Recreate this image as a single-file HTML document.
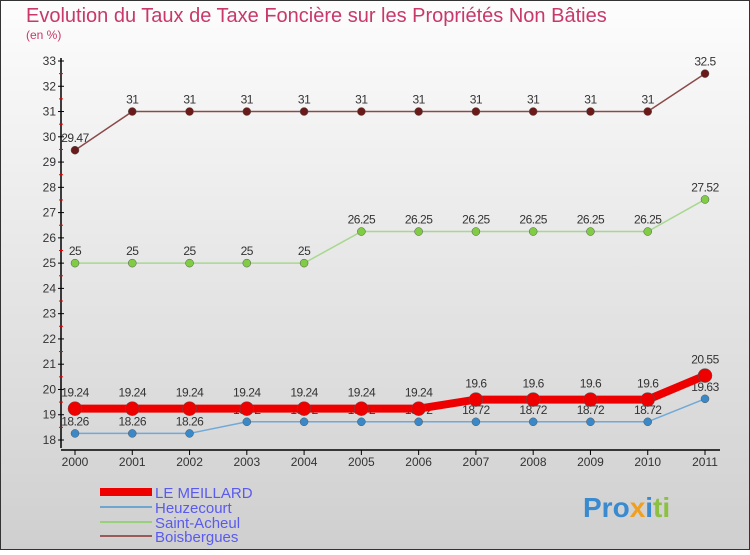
<!DOCTYPE html>
<html><head><meta charset="utf-8"><style>
body{margin:0;width:750px;height:550px;overflow:hidden;font-family:"Liberation Sans",sans-serif}
</style></head><body>
<svg width="750" height="550" xmlns="http://www.w3.org/2000/svg">
<defs><linearGradient id="bg" x1="0" y1="0" x2="0" y2="1"><stop offset="0" stop-color="#fdfdfd"/><stop offset="1" stop-color="#cfcfcf"/></linearGradient></defs>
<rect x="0.5" y="0.5" width="749" height="549" fill="url(#bg)" stroke="#333"/>
<text x="26" y="22" font-size="20" fill="#c8386a">Evolution du Taux de Taxe Foncière sur les Propriétés Non Bâties</text>
<text x="26" y="39" font-size="12" fill="#c8386a">(en %)</text>
<g id="axes"></g>
<g id="series"></g>
<g>
<rect x="100" y="488" width="52" height="8" fill="#e00"/>
<text x="155" y="498" font-size="15" fill="#5a5af0">LE MEILLARD</text>
<line x1="100" y1="507" x2="152" y2="507" stroke="#6ea6d0" stroke-width="2"/>
<text x="155" y="513" font-size="15" fill="#5a5af0">Heuzecourt</text>
<line x1="100" y1="522" x2="152" y2="522" stroke="#99d07a" stroke-width="2"/>
<text x="155" y="528" font-size="15" fill="#5a5af0">Saint-Acheul</text>
<line x1="100" y1="536" x2="152" y2="536" stroke="#9a5a5a" stroke-width="2"/>
<text x="155" y="542" font-size="15" fill="#5a5af0">Boisbergues</text>
</g>
<text x="583" y="517" font-size="28" font-weight="bold" fill="#3a8ad0">Pro<tspan fill="#f0a020">x</tspan><tspan fill="#3a8ad0">i</tspan><tspan fill="#8cc040">ti</tspan></text>
</svg>
<script>
const years=[2000,2001,2002,2003,2004,2005,2006,2007,2008,2009,2010,2011];
const yTicks=[18,19,20,21,22,23,24,25,26,27,28,29,30,31,32,33];
const meillard=[19.24,19.24,19.24,19.24,19.24,19.24,19.24,19.6,19.6,19.6,19.6,20.55];
const heuzecourt=[18.26,18.26,18.26,18.72,18.72,18.72,18.72,18.72,18.72,18.72,18.72,19.63];
const saintAcheul=[25,25,25,25,25,26.25,26.25,26.25,26.25,26.25,26.25,27.52];
const boisbergues=[29.47,31,31,31,31,31,31,31,31,31,31,32.5];
const NS="http://www.w3.org/2000/svg";
const xs=i=>75+i*(630/11);
const ys=v=>440-(v-18)*(379/15);
function mk(t,a,p){const e=document.createElementNS(NS,t);for(const k in a)e.setAttribute(k,a[k]);p.appendChild(e);return e;}
const ax=document.getElementById('axes');
let l=mk('line',{x1:61,y1:58,x2:61,y2:448,stroke:'#000','stroke-width':1.5},ax);


l=mk('line',{x1:61,y1:450,x2:720,y2:450,stroke:'#000','stroke-width':1.5},ax);


yTicks.forEach(v=>{
 mk('line',{x1:58,y1:ys(v),x2:64,y2:ys(v),stroke:'#000'},ax);
 if(v<33)mk('line',{x1:59,y1:ys(v+0.5),x2:63,y2:ys(v+0.5),stroke:'#e00'},ax);
 const t=mk('text',{x:56,y:ys(v)+4,'font-size':12,fill:'#333','text-anchor':'end'},ax);
 t.textContent=v;
 
 
});
years.forEach((y,i)=>{
 mk('line',{x1:xs(i),y1:450,x2:xs(i),y2:455,stroke:'#000'},ax);
 const t=mk('text',{x:xs(i),y:466,'font-size':12,fill:'#333','text-anchor':'middle'},ax);
 t.textContent=y;
 
 
});
const sg=document.getElementById('series');
function draw(vals,color,w,r,name,dot,lab){
 const g=mk('g',{},sg);
 
 
 mk('polyline',{points:vals.map((v,i)=>xs(i)+','+ys(v)).join(' '),fill:'none',stroke:color,'stroke-width':w},g);
 vals.forEach((v,i)=>{
  const c=mk('circle',{cx:xs(i),cy:ys(v),r:r,fill:dot,stroke:'#555','stroke-width':0.5},g);
  
  
  const t=mk('text',{x:xs(i),y:ys(v)-lab,'font-size':12,fill:'#333','text-anchor':'middle','letter-spacing':'-0.5'},g);
  t.textContent=v;
  
  
 });
}
draw(boisbergues,'#8b4a4a',1.5,4,'boisbergues','#6b1a1a',8);
draw(saintAcheul,'#a8d890',1.5,4,'saint-acheul','#80cc44',8);
draw(heuzecourt,'#70a8d8',1.5,4,'heuzecourt','#3a88c8',8);
draw(meillard,'#ee0000',8,7,'le-meillard','#ee0000',12);
</script>
</body></html>
